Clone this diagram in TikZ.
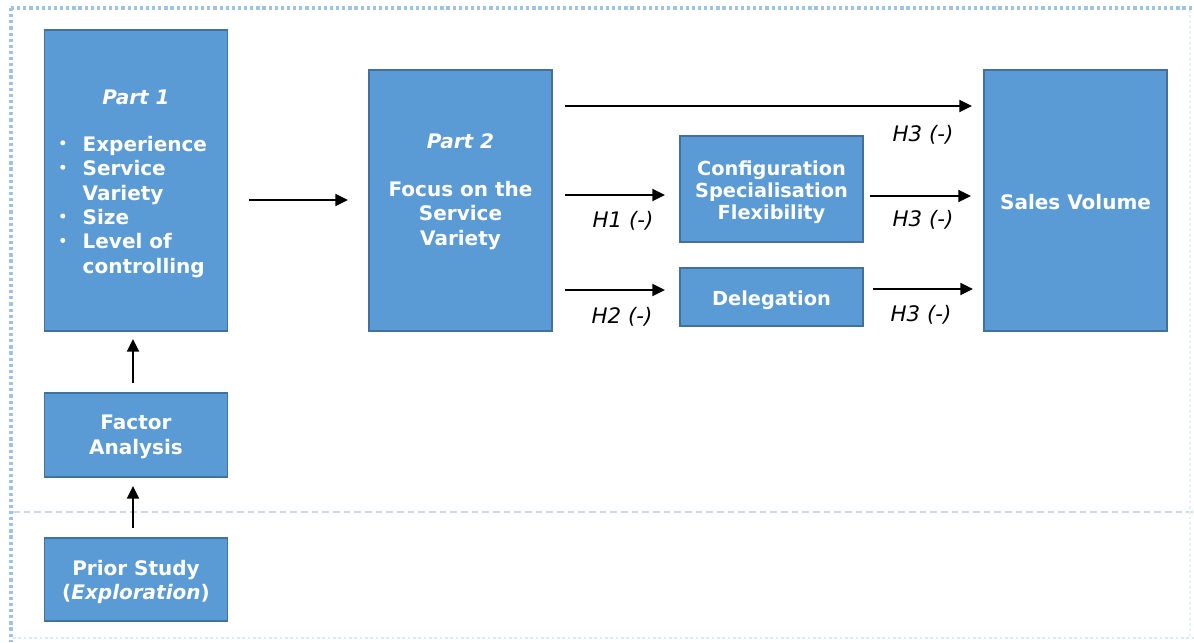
\documentclass[tikz,border=0pt]{standalone}
\usepackage{fontspec}
\setmainfont{DejaVu Sans}
\usetikzlibrary{arrows.meta}
\definecolor{boxfill}{HTML}{5B9BD5}
\definecolor{boxline}{HTML}{41719C}
\definecolor{frameblue}{HTML}{9DC3E6}
\definecolor{framelight}{HTML}{C5DCEF}
\newcommand{\smallbul}{\raisebox{0.3em}{\tikz\fill[white] (0,0) circle (1.9pt);}}
\tikzset{
  box/.style={draw=boxline, line width=0.9pt, fill=boxfill, inner sep=0pt, minimum width=137.5pt},
  btxt/.style={text=white, font=\fontsize{15}{18.3}\selectfont\bfseries, align=center, inner sep=0pt},
  hlab/.style={text=black, font=\fontsize{16}{18}\selectfont\itshape, inner sep=0pt},
  arr/.style={line width=1.4pt, -{Triangle[length=9.5pt,width=9pt]}},
  frame/.style={frameblue, line width=2.4pt, dash pattern=on 2.4pt off 2.2pt},
}
\begin{document}
\begin{tikzpicture}[x=0.75pt,y=-0.75pt]
\useasboundingbox (0,0) rectangle (1194,642);
% frame
\draw[frame] (11,8) -- (1194,8);
\draw[frame] (11,8) -- (11,642);
\draw[framelight, line width=1.2pt, dash pattern=on 5pt off 3pt] (13,512) -- (1194,512);
\draw[framelight!60, line width=1.5pt, dash pattern=on 2pt off 2pt] (13,638) -- (1194,638);
\draw[framelight!40, line width=1.5pt, dash pattern=on 2pt off 2pt] (1190,10) -- (1190,636);
% boxes
\node[box, minimum height=225.75pt] (p1) at (136,180.5) {};
\node[box, minimum height=63pt] (fa) at (136,435) {};
\node[box, minimum height=62.25pt] (ps) at (136,579.5) {};
\node[box, minimum width=137.25pt, minimum height=195.75pt] (p2) at (460.5,200.5) {};
\node[box, minimum width=137.25pt, minimum height=79.5pt] (cf) at (771.5,189) {};
\node[box, minimum width=137.25pt, minimum height=43.5pt] (dl) at (771.5,297) {};
\node[box, minimum width=137.25pt, minimum height=195.75pt] (sv) at (1075.5,200.5) {};
% texts
\node[btxt] (p1t) at (136,97) {\itshape Part 1};
\node[btxt, anchor=north west, align=left] (p1l) at (60,134) {%
  \begin{tabular}{@{}l@{\hspace{13pt}}l@{}}
  \smallbul & Experience\\
  \smallbul & Service\\
   & Variety\\
  \smallbul & Size\\
  \smallbul & Level of\\
   & controlling
  \end{tabular}};
\node[btxt] (fat) at (136,437) {Factor\\Analysis};
\node[btxt] (pst) at (136,582) {Prior Study\\(\textit{Exploration})};
\node[btxt] (p2t) at (460.5,141) {\itshape Part 2};
\node[btxt] (p2l) at (460.5,215.5) {Focus on the\\Service\\Variety};
\node[btxt, font=\fontsize{14.5}{16.5}\selectfont\bfseries] (cft) at (771.5,192) {Configuration\\Specialisation\\Flexibility};
\node[btxt, font=\fontsize{14.5}{16.5}\selectfont\bfseries] (dlt) at (771.5,300) {Delegation};
\node[btxt] (svt) at (1075.5,202) {Sales Volume};
% arrow end points
\coordinate (a1s) at (249,200); \coordinate (a1e) at (348,200);
\coordinate (a2s) at (133,383); \coordinate (a2e) at (133,339);
\coordinate (a3s) at (133,528); \coordinate (a3e) at (133,486);
\coordinate (a4s) at (565,106); \coordinate (a4e) at (972,106);
\coordinate (a5s) at (565,195); \coordinate (a5e) at (665,195);
\coordinate (a6s) at (565,290); \coordinate (a6e) at (665,290);
\coordinate (a7s) at (870,196); \coordinate (a7e) at (971,196);
\coordinate (a8s) at (873,289); \coordinate (a8e) at (973,289);
% arrows
\draw[arr] (a1s) -- (a1e);
\draw[arr] (a2s) -- (a2e);
\draw[arr] (a3s) -- (a3e);
\draw[arr] (a4s) -- (a4e);
\draw[arr] (a5s) -- (a5e);
\draw[arr] (a6s) -- (a6e);
\draw[arr] (a7s) -- (a7e);
\draw[arr] (a8s) -- (a8e);
% labels
\node[hlab] (l1) at (923,135) {H3 (-)};
\node[hlab] (l2) at (623,221) {H1 (-)};
\node[hlab] (l3) at (622,317) {H2 (-)};
\node[hlab] (l4) at (923,220) {H3 (-)};
\node[hlab] (l5) at (921,315) {H3 (-)};
\end{tikzpicture}
\end{document}
